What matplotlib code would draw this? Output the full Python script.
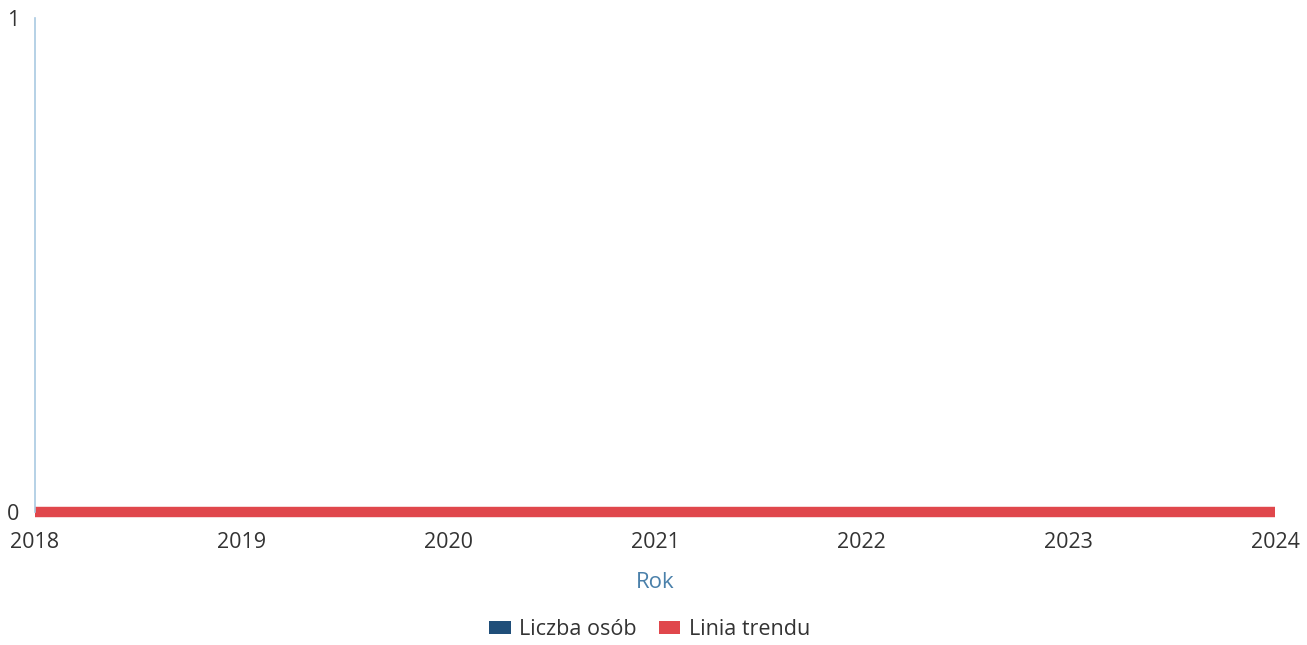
import matplotlib.pyplot as plt
from matplotlib.patches import Patch

# dane
lata = [2018, 2019, 2020, 2021, 2022, 2023, 2024]
liczba_osob = [0, 0, 0, 0, 0, 0, 0]
linia_trendu = [0, 0, 0, 0, 0, 0, 0]

plt.rcParams['font.family'] = ['Open Sans', 'DejaVu Sans']

fig = plt.figure(figsize=(13.07, 6.45), dpi=100)
ax = fig.add_axes([0.0268, 0.206, 0.9487, 0.766])

ax.bar(lata, liczba_osob, width=0.6, color='#1f4e79')
ax.plot(lata, linia_trendu, color='#e0474c', linewidth=7.5, solid_capstyle='butt', clip_on=False)

ax.set_xlim(2018, 2024)
ax.set_ylim(0, 1)
ax.set_xticks(lata)
ax.set_xticklabels([str(r) for r in lata])
ax.set_yticks([0, 1])

for s in ['top', 'right', 'bottom']:
    ax.spines[s].set_visible(False)
ax.spines['left'].set_color('#a9c9e2')
ax.spines['left'].set_linewidth(1.2)

ax.tick_params(axis='both', length=0, labelsize=15.5, colors='#333333')
ax.tick_params(axis='x', pad=14)
ax.tick_params(axis='y', pad=11)

ax.set_xlabel('Rok', fontsize=16, color='#4a80aa', labelpad=14)

uchwyty = [Patch(facecolor='#1f4e79', label='Liczba osób'),
           Patch(facecolor='#e0474c', label='Linia trendu')]
fig.legend(handles=uchwyty, loc='center', bbox_to_anchor=(0.497, 0.024), ncol=2,
           frameon=False, fontsize=15.5, handlelength=1.0, handleheight=0.5,
           handletextpad=0.4, columnspacing=1.0, labelcolor='#333333')

fig.savefig('out.png', dpi=100)
